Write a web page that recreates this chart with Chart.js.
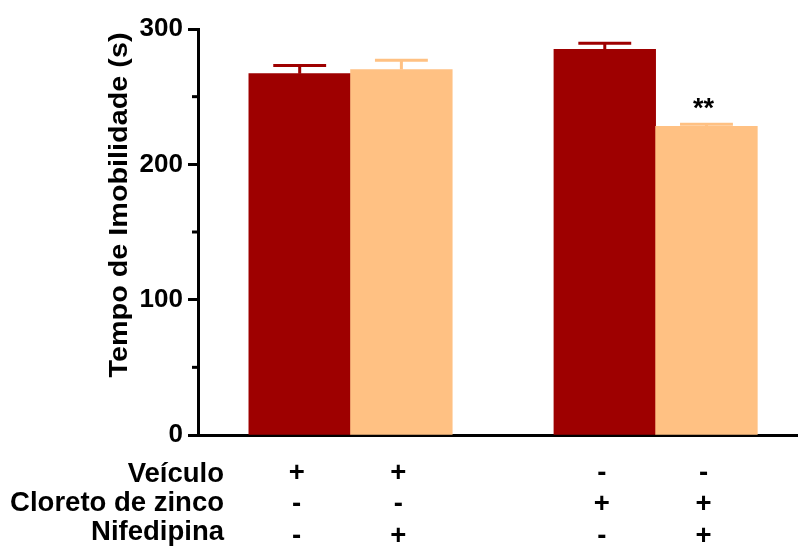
<!DOCTYPE html>
<html>
<head>
<meta charset="utf-8">
<script src="https://cdn.jsdelivr.net/npm/chart.js@4.4.1/dist/chart.umd.min.js"></script>
<style>
  html, body { margin: 0; padding: 0; background: #fff; }
  #wrap { width: 798px; height: 548px; }
</style>
</head>
<body>
<div id="wrap"><canvas id="chart"></canvas></div>
<script>
// groups along the x axis (gap between the two pairs)
var barPositions = [1, 2, 4, 5];
var meanTime = [267, 270, 285, 228];
var semTime = [6, 7, 4.5, 1.7];
var significance = ['', '', '', '**'];
var yTicks = [0, 100, 200, 300];
var yMinorTicks = [50, 150, 250];

// treatment table under the axis
var rowLabels = ['Veículo', 'Cloreto de zinco', 'Nifedipina'];
var veiculo = ['+', '+', '-', '-'];
var cloretoZinco = ['-', '-', '+', '+'];
var nifedipina = ['-', '+', '-', '+'];

var DARK = '#9E0000';
var LIGHT = '#FFC183';
var barColors = [DARK, LIGHT, DARK, LIGHT];
var FONT = '"Liberation Sans", Arial, Helvetica, sans-serif';

var errorBars = {
    id: 'errorBars',
    afterDatasetsDraw: function (chart) {
        var ctx = chart.ctx;
        var y = chart.scales.y;
        var meta = chart.getDatasetMeta(0);
        ctx.save();
        meta.data.forEach(function (bar, i) {
            var top = y.getPixelForValue(meanTime[i]);
            var cap = y.getPixelForValue(meanTime[i] + semTime[i]);
            var half = bar.width * 0.26;
            ctx.strokeStyle = barColors[i];
            ctx.lineWidth = 3;
            ctx.beginPath();
            ctx.moveTo(bar.x, top);
            ctx.lineTo(bar.x, cap);
            ctx.moveTo(bar.x - half, cap);
            ctx.lineTo(bar.x + half, cap);
            ctx.stroke();
            if (significance[i]) {
                ctx.fillStyle = '#000';
                ctx.font = 'bold 27px ' + FONT;
                ctx.textAlign = 'center';
                ctx.textBaseline = 'alphabetic';
                ctx.fillText(significance[i], bar.x - 3, cap - 7);
            }
        });
        ctx.restore();
    }
};

var minorTicks = {
    id: 'minorTicks',
    afterDraw: function (chart) {
        var ctx = chart.ctx;
        var y = chart.scales.y;
        var left = chart.chartArea.left;
        ctx.save();
        ctx.strokeStyle = '#000';
        ctx.lineWidth = 3;
        yMinorTicks.forEach(function (v) {
            var py = y.getPixelForValue(v);
            ctx.beginPath();
            ctx.moveTo(left - 6, py);
            ctx.lineTo(left, py);
            ctx.stroke();
        });
        ctx.restore();
    }
};

var axisTitle = {
    id: 'axisTitle',
    afterDraw: function (chart) {
        var ctx = chart.ctx;
        var text = 'Tempo de Imobilidade (s)';
        ctx.save();
        ctx.font = 'bold 25px ' + FONT;
        ctx.fillStyle = '#000';
        ctx.textAlign = 'center';
        ctx.textBaseline = 'alphabetic';
        ctx.translate(127, 205);
        ctx.rotate(-Math.PI / 2);
        var w = ctx.measureText(text).width;
        ctx.scale(345 / w, 1);
        ctx.fillText(text, 0, 0);
        ctx.restore();
    }
};

var treatmentTable = {
    id: 'treatmentTable',
    afterDraw: function (chart) {
        var ctx = chart.ctx;
        var meta = chart.getDatasetMeta(0);
        var rows = [veiculo, cloretoZinco, nifedipina];
        var labelBase = [482, 511, 540];
        var signBase = [481, 512, 544];
        ctx.save();
        ctx.fillStyle = '#000';
        ctx.font = 'bold 27.5px ' + FONT;
        ctx.textBaseline = 'alphabetic';
        rowLabels.forEach(function (label, r) {
            ctx.textAlign = 'right';
            ctx.fillText(label, 224, labelBase[r]);
            ctx.textAlign = 'center';
            rows[r].forEach(function (sign, i) {
                ctx.fillText(sign, meta.data[i].x - 3, signBase[r]);
            });
        });
        ctx.restore();
    }
};

var ctx = document.getElementById('chart').getContext('2d');
var myChart = new Chart(ctx, {
    type: 'bar',
    data: {
        datasets: [{
            data: barPositions.map(function (x, i) { return { x: x, y: meanTime[i] }; }),
            backgroundColor: barColors,
            borderWidth: 0,
            categoryPercentage: 1,
            barPercentage: 1
        }]
    },
    options: {
        responsive: true,
        maintainAspectRatio: false,
        animation: false,
        layout: {
            padding: { top: 29, left: 0, right: 0, bottom: 0 }
        },
        plugins: {
            legend: { display: false },
            tooltip: { enabled: false }
        },
        scales: {
            x: {
                type: 'linear',
                min: 0,
                max: 5.9,
                offset: false,
                afterBuildTicks: function (scale) {
                    scale.ticks = barPositions.map(function (v) { return { value: v }; });
                },
                ticks: { display: false },
                grid: { display: false, drawTicks: false },
                border: { display: true, color: '#000', width: 3 },
                afterFit: function (scale) { scale.height = 113; }
            },
            y: {
                min: 0,
                max: 300,
                afterBuildTicks: function (scale) {
                    scale.ticks = yTicks.map(function (v) { return { value: v }; });
                },
                ticks: {
                    autoSkip: false,
                    padding: 5,
                    color: '#000',
                    font: { family: FONT, size: 26, weight: 'bold' }
                },
                grid: {
                    display: true,
                    drawOnChartArea: false,
                    drawTicks: true,
                    tickLength: 10,
                    tickWidth: 3,
                    tickColor: '#000'
                },
                border: { display: true, color: '#000', width: 3 },
                afterFit: function (scale) { scale.width = 198; }
            }
        }
    },
    plugins: [errorBars, minorTicks, axisTitle, treatmentTable]
});
</script>
</body>
</html>
